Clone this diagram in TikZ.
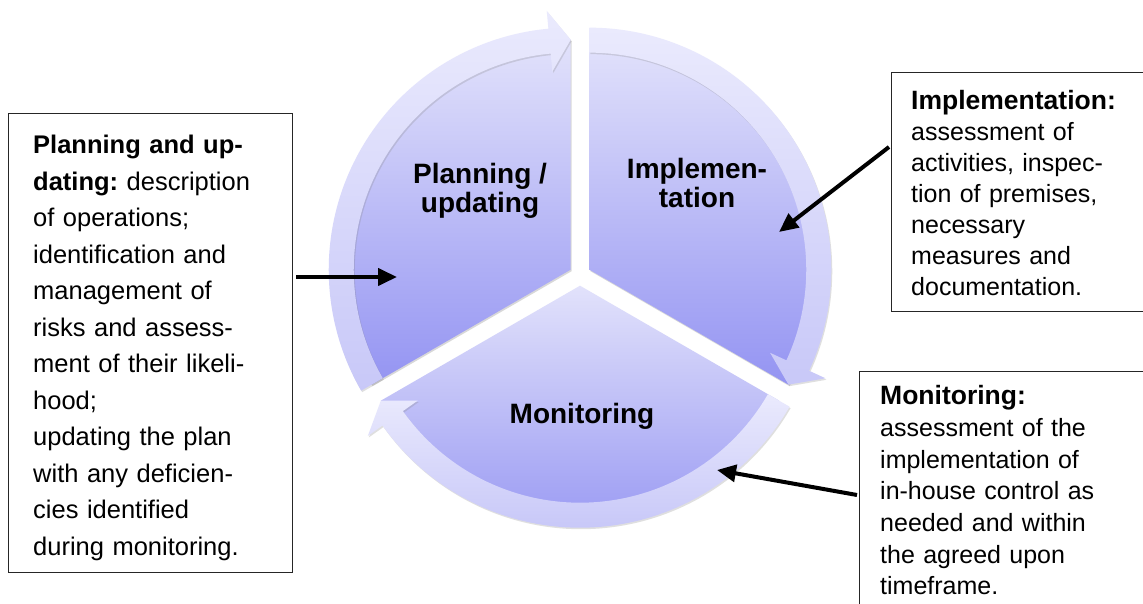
\documentclass[tikz,border=0pt]{standalone}
\usepackage{fontspec}
\setmainfont{Liberation Sans}
\usetikzlibrary{arrows.meta,calc,shadows}
\frenchspacing

\definecolor{segtop}{RGB}{226,226,251}
\definecolor{segbot}{RGB}{148,148,242}
\definecolor{arrtop}{RGB}{234,234,253}
\definecolor{arrbot}{RGB}{200,200,248}

\tikzset{
  segment/.style={top color=segtop, bottom color=segbot,
    drop shadow={shadow xshift=1pt, shadow yshift=-1.5pt, opacity=0.3}},
  ringarrow/.style={top color=arrtop, bottom color=arrbot,
    drop shadow={shadow xshift=1pt, shadow yshift=-1.5pt, opacity=0.25}},
  infobox/.style={draw=black!85, line width=1pt, rectangle, inner sep=0pt,
    anchor=north west},
  infotext/.style={anchor=base west, inner sep=0pt, align=left,
    text width=262pt},
  seglabel/.style={align=center, inner sep=0pt,
    font=\bfseries\fontsize{28}{29}\selectfont},
  pointer/.style={line width=4pt, -{Triangle[length=19pt,width=17pt]}}
}
\newcommand\boxhead[1]{{\fontsize{26.5}{31}\selectfont\bfseries #1}}

\begin{document}
\begin{tikzpicture}[x=1pt,y=1pt]
  \useasboundingbox (0,0) rectangle (1143,603);
  \fill[white] (0,0) rectangle (1143,603);
  \clip (0,0) rectangle (1143,603);

  % centres of the three exploded segments
  \coordinate (cP) at (570.73,333.35);
  \coordinate (cI) at (589.27,333.35);
  \coordinate (cM) at (580,317.3);

  % pie segments
  \begin{scope}[shift={(cP)}]
    \path[segment] (0,0) -- (210:230) arc[start angle=210,end angle=90,radius=230] -- cycle;
  \end{scope}
  \begin{scope}[shift={(cI)}]
    \path[segment] (0,0) -- (90:230) arc[start angle=90,end angle=-30,radius=230] -- cycle;
  \end{scope}
  \begin{scope}[shift={(cM)}]
    \path[segment] (0,0) -- (-30:230) arc[start angle=-30,end angle=-150,radius=230] -- cycle;
  \end{scope}

  % curved arrows around the segments (clockwise)
  \begin{scope}[shift={(cP)}]
    \path[ringarrow] (210:242) arc[start angle=210,end angle=95.3,radius=242]
      -- (95.3:260) -- (90:230) -- (95.3:199) -- (95.3:217)
      arc[start angle=95.3,end angle=210,radius=217] -- cycle;
  \end{scope}
  \begin{scope}[shift={(cI)}]
    \path[ringarrow] (90:242) arc[start angle=90,end angle=-24.7,radius=242]
      -- (-24.7:260) -- (-30:230) -- (-24.7:199) -- (-24.7:217)
      arc[start angle=-24.7,end angle=90,radius=217] -- cycle;
  \end{scope}
  \begin{scope}[shift={(cM)}]
    \path[ringarrow] (-30:242) arc[start angle=-30,end angle=-144.7,radius=242]
      -- (-144.7:260) -- (-150:230) -- (-144.7:199) -- (-144.7:217)
      arc[start angle=-144.7,end angle=-30,radius=217] -- cycle;
  \end{scope}

  % segment titles
  \node[seglabel] (lblP) at (480,412) {Planning /\\updating};
  \node[seglabel] (lblI) at (697,420) {Implemen-\\tation};
  \node[seglabel] (lblM) at (582,187) {Monitoring};

  % description boxes
  \node[infobox, minimum width=284pt, minimum height=459pt] (planbox) at (8,490) {};
  \node[infobox, minimum width=270pt, minimum height=239pt] (implbox) at (891,531) {};
  \node[infobox, minimum width=300pt, minimum height=260pt] (monbox) at (859,232) {};

  \node[infotext, font=\fontsize{25.5}{36.5}\selectfont] (plantext) at (33,449)
    {\textbf{Planning and up-}\\
     \textbf{dating:} description\\
     of operations;\\
     identification and\\
     management of\\
     risks and assess-\\
     ment of their likeli-\\
     hood;\\
     updating the plan\\
     with any deficien-\\
     cies identified\\
     during monitoring.};

  \node[infotext, font=\fontsize{25}{31}\selectfont] (impltext) at (911,493)
    {\boxhead{Implementation:}\\
     assessment of\\
     activities, inspec-\\
     tion of premises,\\
     necessary\\
     measures and\\
     documentation.};

  \node[infotext, font=\fontsize{25}{31.6}\selectfont] (montext) at (880,198)
    {\boxhead{Monitoring:}\\
     assessment of the\\
     implementation of\\
     in-house control as\\
     needed and within\\
     the agreed upon\\
     timeframe.};

  % pointers from the boxes into the cycle
  \coordinate (p1e) at (397,326);
  \coordinate (p2s) at (889,456);
  \coordinate (p2e) at (779,371);
  \coordinate (p3s) at (857,108);
  \coordinate (p3e) at (717,133);
  \draw[pointer] ([xshift=3pt]planbox.east |- p1e) -- (p1e);
  \draw[pointer] (p2s) -- (p2e);
  \draw[pointer] (p3s) -- (p3e);
\end{tikzpicture}
\end{document}
